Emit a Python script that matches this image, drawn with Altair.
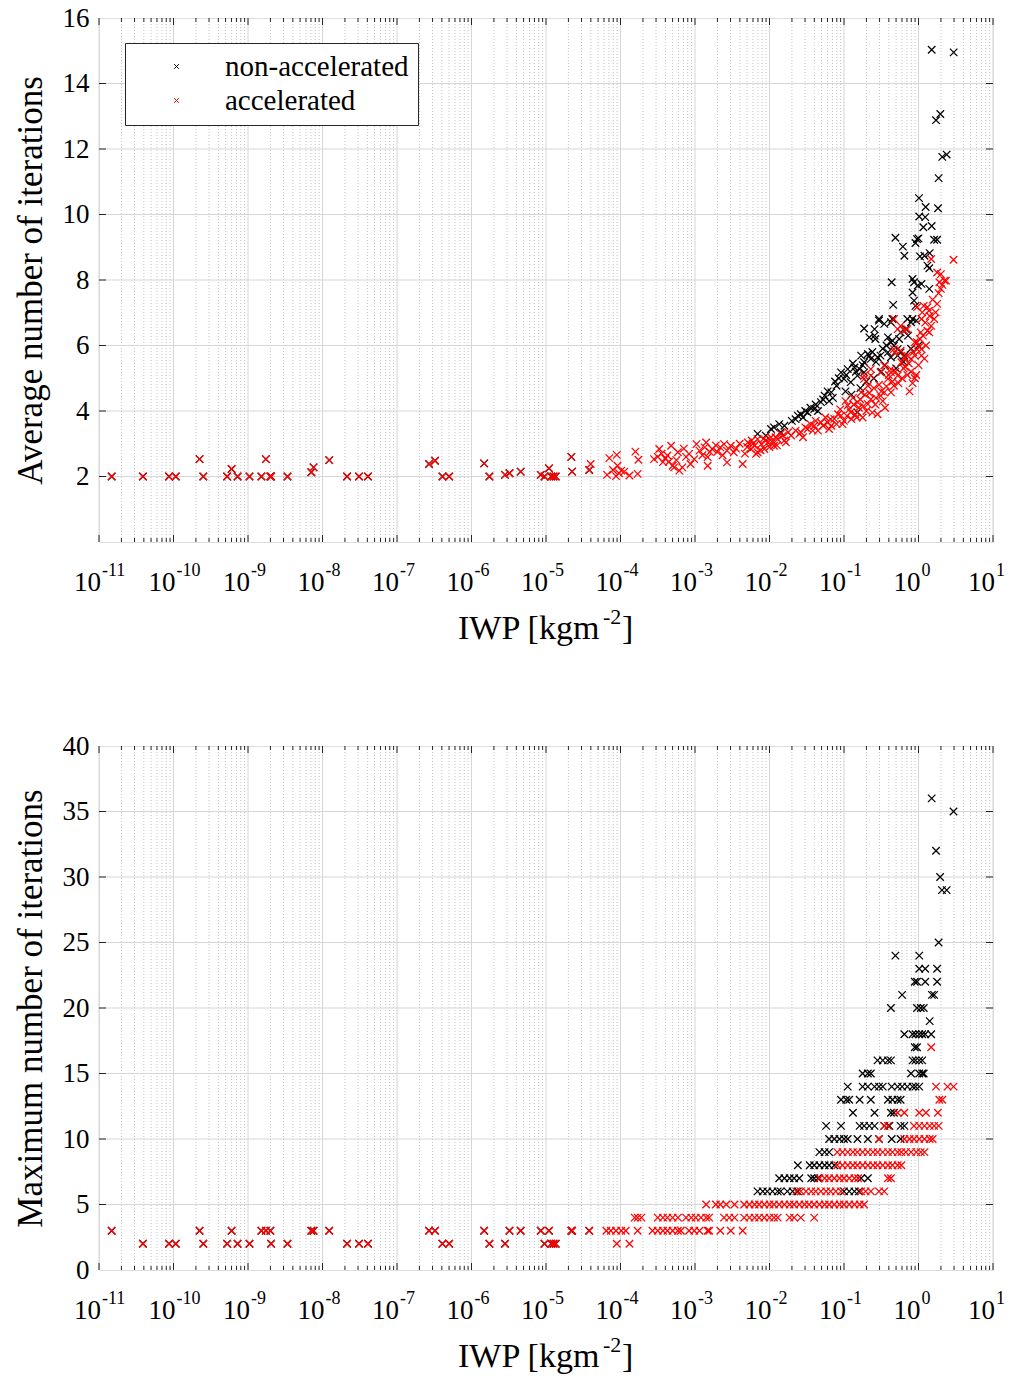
import altair as alt
import pandas as pd

# ---------------- data (log10 IWP exponents and iteration counts) ----------------
# profiles with very small IWP (same for both schemes)
low_exp = [-10.83, -10.41, -10.06, -9.97, -9.65, -9.60, -9.28, -9.22, -9.14, -8.98,
           -8.82, -8.76, -8.70, -8.69, -8.47, -8.15, -8.12, -7.91, -7.67, -7.51,
           -7.39, -6.57, -6.49, -6.39, -6.30, -5.83, -5.76, -5.55, -5.49, -5.34,
           -5.07, -5.02, -4.96, -4.93, -4.90, -4.87, -4.66, -4.65, -4.42]
low_avg = [2.0, 2.0, 2.0, 2.0, 2.53, 2.0, 2.0, 2.23, 2.0, 2.0,
           2.0, 2.53, 2.0, 2.0, 2.0, 2.13, 2.28, 2.5, 2.0, 2.0,
           2.0, 2.38, 2.48, 2.0, 2.0, 2.4, 2.0, 2.05, 2.1, 2.15,
           2.05, 2.0, 2.25, 2.0, 2.0, 2.0, 2.6, 2.15, 2.2]
low_max = [3, 2, 2, 2, 3, 2, 2, 3, 2, 2,
           3, 3, 3, 2, 2, 3, 3, 3, 2, 2,
           2, 3, 3, 2, 2, 3, 2, 2, 3, 3,
           3, 2, 3, 2, 2, 2, 3, 3, 3]

# average number of iterations, accelerated (exponent, value)
avg_acc = [
    (-4.40, 2.38), (-4.15, 2.56), (-4.05, 2.66), (-4.04, 2.33), (-4.18, 2.05), (-4.06, 2.01),
    (-3.99, 2.18), (-3.95, 2.15), (-3.88, 2.03), (-3.77, 2.08), (-4.10, 2.20), (-4.02, 2.10),
    (-3.80, 2.76), (-3.76, 2.51),
    (-3.55, 2.53), (-3.48, 2.84), (-3.43, 2.44), (-3.37, 2.64), (-3.32, 2.94), (-3.30, 2.33),
    (-3.23, 2.74), (-3.21, 2.18), (-3.28, 2.28), (-3.17, 2.28), (-3.50, 2.60), (-3.40, 2.55),
    (-3.35, 2.45), (-3.25, 2.50),
    (-3.08, 2.69), (-3.06, 2.38), (-2.98, 2.99), (-2.94, 2.79), (-2.87, 2.89), (-2.85, 3.04),
    (-2.83, 2.59), (-2.83, 2.33), (-3.01, 2.53), (-2.90, 2.65),
    (-2.77, 2.84), (-2.66, 2.89), (-2.61, 2.99), (-2.57, 2.79), (-2.52, 2.94), (-2.48, 2.74),
    (-2.57, 2.43), (-2.36, 2.38), (-2.70, 2.75),
    (-2.29, 3.04), (-2.25, 2.84), (-2.20, 2.94), (-2.16, 3.14), (-2.11, 2.99), (-2.07, 2.84),
    (-2.02, 3.04), (-1.98, 3.20), (-1.94, 2.94), (-1.89, 3.14), (-1.82, 3.25), (-1.78, 3.04),
    (-2.16, 2.74), (-2.18, 2.69), (-2.30, 2.90), (-2.24, 3.10), (-2.12, 2.80), (-2.05, 3.10),
    (-1.96, 3.05), (-1.90, 2.95), (-1.85, 3.30),
    (-1.71, 3.25), (-1.58, 3.35), (-1.49, 3.45), (-1.40, 3.55), (-1.31, 3.65), (-1.17, 3.55),
    (-1.22, 3.65), (-1.13, 3.76), (-1.04, 3.86), (-0.91, 3.96), (-0.95, 4.17), (-0.82, 4.27),
    (-0.68, 4.21), (-0.64, 4.36), (-0.77, 4.57), (-0.68, 4.77), (-0.73, 4.98), (-0.64, 5.08),
    (-1.65, 3.40), (-1.55, 3.20), (-1.45, 3.60), (-1.35, 3.40), (-1.25, 3.80), (-1.20, 3.45),
    (-1.10, 3.60), (-1.05, 4.05), (-1.00, 3.70), (-0.98, 4.30), (-0.90, 3.75), (-0.88, 4.40),
    (-0.85, 3.90), (-0.80, 4.10), (-0.75, 3.80), (-0.72, 4.50), (-0.70, 4.00), (-0.60, 4.70),
    (-0.58, 4.20), (-0.55, 3.90), (-0.50, 4.60), (-0.45, 4.10),
    (-0.46, 5.39), (-0.37, 5.18), (-0.28, 5.08), (-0.41, 4.98), (-0.33, 4.77), (-0.46, 4.57),
    (-0.51, 4.47), (-0.37, 4.57),
    (-0.02, 6.10), (0.04, 5.89), (-0.05, 5.69), (-0.10, 5.59), (-0.19, 5.64), (-0.24, 5.84),
    (-0.33, 5.89),
    (0.25, 7.27), (0.12, 7.17), (0.05, 7.01), (0.21, 6.81), (0.17, 6.60), (0.12, 6.45),
    (0.03, 6.40), (-0.15, 6.50), (-0.24, 6.60), (-0.33, 6.81),
    (0.35, 7.98), (0.30, 7.73), (0.17, 8.64), (0.47, 8.62), (0.25, 8.23), (0.30, 8.18),
    (0.37, 7.98), (0.28, 7.93), (-0.02, 7.17), (0.07, 7.21), (0.14, 7.06), (0.23, 7.01),
    (0.04, 6.81), (0.145, 6.40), (-0.05, 6.10), (-0.02, 5.89), (0.04, 5.69), (-0.28, 6.50),
    (-0.19, 6.45), (-0.32, 5.79), (-0.15, 5.69), (-0.23, 5.49), (-0.37, 5.28), (-0.51, 5.18),
    (-0.64, 5.28), (-0.73, 5.08),
    (-0.10, 5.20), (0.00, 5.40), (0.08, 5.60), (-0.05, 5.00), (0.10, 6.00), (-0.15, 5.10),
    (-0.20, 5.30), (0.02, 6.20), (-0.12, 4.60), (-0.08, 4.85), (-0.03, 5.10),
    (-1.60, 3.30), (-1.52, 3.50), (-1.42, 3.40), (-1.38, 3.70), (-1.28, 3.55), (-1.18, 3.75),
    (-1.08, 3.90), (-1.02, 3.60), (-0.96, 3.85), (-0.93, 4.05), (-0.87, 4.20), (-0.83, 3.80),
    (-0.78, 4.35), (-0.74, 4.15), (-0.66, 4.55), (-0.62, 3.95), (-0.57, 4.40), (-0.53, 4.80),
    (-0.48, 4.30), (-0.43, 4.75), (-0.40, 5.10), (-0.35, 4.90), (-0.31, 5.20), (-0.27, 4.85),
    (-0.22, 5.00), (-0.18, 5.35), (-0.13, 5.45), (-0.07, 5.80), (0.01, 5.95), (0.06, 6.30),
    (0.09, 6.70), (0.15, 6.90), (0.19, 7.40), (0.27, 7.60), (0.32, 7.85),
    (-2.45, 2.85), (-2.40, 3.00), (-2.33, 2.70), (-2.22, 3.00), (-2.08, 3.15), (-2.00, 2.90),
    (-1.92, 3.20), (-1.80, 3.10), (-1.75, 3.35),
    (-2.80, 2.75), (-2.72, 2.95), (-2.63, 2.65), (-3.12, 2.60), (-3.15, 2.85), (-3.45, 2.70),
]

# average number of iterations, non-accelerated (exponent, value)
avg_non = [
    (-2.16, 3.30), (-2.05, 3.25), (-1.98, 3.45), (-1.87, 3.60), (-1.85, 3.35), (-1.94, 3.50),
    (-1.62, 3.86), (-1.49, 3.96), (-1.40, 4.06), (-1.31, 4.27), (-1.26, 4.47), (-1.17, 4.57),
    (-1.10, 4.77), (-1.04, 5.18), (-0.95, 5.28), (-0.86, 5.33), (-1.00, 4.98), (-0.91, 4.88),
    (-0.82, 5.08), (-0.82, 3.96), (-0.79, 5.28), (-0.73, 5.18),
    (-0.77, 5.69), (-0.66, 5.69), (-0.64, 5.59), (-0.51, 5.69), (-0.41, 5.79), (-0.37, 5.64),
    (-0.28, 5.69), (-0.68, 5.74), (-0.55, 5.64), (-0.73, 5.49),
    (-0.73, 6.52), (-0.59, 6.50), (-0.66, 6.25), (-0.58, 6.20), (-0.41, 6.25), (-0.35, 6.15),
    (-0.24, 6.40), (-0.17, 6.50), (-0.10, 6.71), (-0.03, 6.76), (-0.53, 6.76), (-0.46, 6.66),
    (-0.37, 6.71), (-0.59, 6.30),
    (-0.37, 6.10), (-0.33, 5.99), (-0.28, 5.89), (-0.24, 5.79), (-0.19, 5.69),
    (-0.36, 7.93), (-0.08, 8.03), (-0.06, 7.93), (-0.01, 7.83), (-0.08, 7.62), (0.04, 7.88),
    (0.145, 7.73), (-0.34, 7.24), (-0.06, 7.37), (-0.04, 7.21),
    (0.12, 8.44), (0.145, 8.36), (0.02, 8.72), (0.08, 8.74), (0.15, 8.82), (-0.19, 8.74),
    (-0.21, 9.02),
    (-0.02, 9.25), (0.00, 9.27), (-0.04, 9.13), (0.21, 9.23), (0.25, 9.23), (-0.31, 9.29),
    (0.065, 9.61), (0.177, 9.65), (0.01, 9.94), (0.09, 9.92),
    (0.007, 10.50), (0.096, 10.23), (0.262, 10.19),
    (0.27, 11.11), (0.319, 11.76), (0.378, 11.83), (0.235, 12.88), (0.293, 13.07),
    (0.177, 15.03), (0.472, 14.95),
    (-1.70, 3.70), (-1.55, 3.80), (-1.45, 4.10), (-1.35, 4.00), (-1.20, 4.30), (-1.15, 4.40),
    (-0.98, 4.60), (-0.90, 4.50), (-0.78, 4.70), (-0.70, 4.90), (-0.60, 5.00), (-0.50, 5.20),
    (-0.45, 5.40), (-0.30, 5.30), (-0.20, 5.50), (-0.10, 5.90), (0.00, 6.00),
    (-0.53, 6.81), (-0.35, 6.81), (-0.15, 6.81), (-0.08, 6.81),
    (-1.80, 3.55), (-1.65, 3.75), (-1.58, 3.90), (-1.52, 4.00), (-1.38, 4.20), (-1.28, 4.35),
    (-1.22, 4.60), (-1.12, 4.90), (-1.07, 5.00), (-0.97, 5.10), (-0.88, 5.45), (-0.84, 5.20),
    (-0.75, 5.40), (-0.62, 5.80), (-0.57, 5.50), (-0.48, 5.90), (-0.43, 6.00), (-0.26, 6.20),
    (-0.14, 6.30),
]

# maximum number of iterations: value -> exponents of IWP
max_acc_rows = {
    2: [-4.05, -3.88],
    3: [-4.19, -4.13, -4.06, -3.99, -3.93, -3.77, -3.57, -3.50, -3.43, -3.37, -3.30, -3.23,
        -3.19, -3.08, -3.01, -2.94, -2.83, -2.81, -2.66, -2.52, -2.36],
    4: [-3.81, -3.77, -3.72, -3.50, -3.43, -3.37, -3.30, -3.23, -3.12, -3.05, -2.99, -2.92,
        -2.85, -2.81, -2.61, -2.54, -2.47, -2.34, -2.27, -2.20, -2.14, -2.07, -2.00, -1.94,
        -1.89, -1.73, -1.67, -1.58, -1.40],
    5: [-2.85, -2.72, -2.66, -2.58, -2.47, -2.34, -2.27, -2.20, -2.14, -2.07, -2.00, -1.94,
        -1.87, -1.80, -1.73, -1.67, -1.60, -1.53, -1.47, -1.40, -1.33, -1.26, -1.20, -1.13,
        -1.06, -1.00, -0.93, -0.86, -0.79, -0.73],
    6: [-1.64, -1.58, -1.51, -1.44, -1.38, -1.31, -1.24, -1.18, -1.11, -1.04, -0.77, -0.71,
        -0.64, -0.53, -0.46],
    7: [-1.33, -1.26, -1.20, -1.13, -1.06, -1.00, -0.93, -0.86, -0.81, -0.41, -0.37],
    8: [-1.09, -1.02, -0.95, -0.88, -0.82, -0.75, -0.68, -0.61, -0.55, -0.48, -0.41, -0.35,
        -0.28, -0.23],
    9: [-1.09, -1.02, -0.95, -0.88, -0.82, -0.75, -0.68, -0.61, -0.55, -0.48, -0.41, -0.35,
        -0.28, -0.23, -0.17, -0.10, -0.03, 0.03, 0.08],
    10: [-0.53, -0.19, -0.12, -0.06, 0.01, 0.08, 0.15, 0.19],
    11: [-0.46, -0.41, -0.06, 0.01, 0.08, 0.15, 0.21, 0.27],
    12: [-0.28, -0.19, 0.01, 0.10, 0.26],
    13: [0.28, 0.32],
    14: [0.235, 0.39, 0.47],
    17: [0.17],
}
max_non_rows = {
    6: [-2.16, -2.09, -2.03, -1.96, -1.89, -1.85, -1.76, -1.69, -1.62, -1.00, -0.93, -0.86, -0.80],
    7: [-1.87, -1.80, -1.73, -1.67, -1.60, -1.44, -1.40, -1.35, -0.77, -0.68],
    8: [-1.62, -1.46, -1.40, -1.33, -1.26, -1.20, -1.13],
    9: [-1.33, -1.26, -1.20],
    10: [-1.20, -1.13, -1.06, -1.00, -0.95, -0.82, -0.68, -0.53, -0.36, -0.24],
    11: [-1.24, -1.04, -0.79, -0.73, -0.66, -0.59, -0.46, -0.39, -0.24, -0.19],
    12: [-0.88, -0.59, -0.37, -0.33],
    13: [-1.04, -0.97, -0.93, -0.79, -0.64, -0.41, -0.35, -0.28, -0.24],
    14: [-0.95, -0.75, -0.68, -0.59, -0.53, -0.48, -0.36, -0.28, -0.22, -0.15, -0.08, -0.04, 0.01],
    15: [-0.75, -0.68, -0.64, -0.10, 0.01, 0.05, 0.07],
    16: [-0.55, -0.48, -0.41, -0.37, -0.08, -0.04, 0.01, 0.05],
    17: [-0.05, -0.02],
    18: [-0.19, -0.08, -0.04, 0.01, 0.05, 0.09, 0.17],
    19: [0.15],
    20: [-0.37, -0.02, 0.03, 0.07],
    21: [-0.22, 0.18, 0.21],
    22: [-0.05, -0.02, 0.09, 0.25],
    23: [0.01, 0.09, 0.25],
    24: [-0.31, 0.01],
    25: [0.27],
    29: [0.315, 0.378],
    30: [0.29],
    32: [0.235],
    35: [0.47],
    36: [0.177],
}

# axis ticks / labels
decade_exp = [-11, -10, -9, -8, -7, -6, -5, -4, -3, -2, -1, 0, 1]
decade_sup = ["-11", "-10", "-9", "-8", "-7", "-6", "-5", "-4", "-3", "-2", "-1", "0", "1"]
minor_mult = [2, 3, 4, 5, 6, 7, 8, 9]
avg_yticks = [2, 4, 6, 8, 10, 12, 14, 16]
max_yticks = [0, 5, 10, 15, 20, 25, 30, 35, 40]
SERIES = ["non-accelerated", "accelerated"]

# ---------------- layout / style ----------------
W, H = 894, 524
FONT = "Liberation Serif"
XPATH = "M-1,-1L1,1M-1,1L1,-1"
AXC = "#262626"


def frame(non_pairs, acc_pairs):
    rows = [{"iwp": 10.0 ** e, "val": v, "scheme": SERIES[0]} for e, v in non_pairs]
    rows += [{"iwp": 10.0 ** e, "val": v, "scheme": SERIES[1]} for e, v in acc_pairs]
    return pd.DataFrame(rows)


def panel(df, ymax, yticks, ytitle):
    xs = alt.Scale(type="log", domain=[1e-11, 10])
    ys = alt.Scale(domain=[0, ymax], nice=False, zero=False)
    yaxis = alt.Axis(
        values=yticks, grid=False, ticks=False, domain=False,
        labelFont=FONT, labelFontSize=27, labelColor="black", labelPadding=10,
        title=ytitle, titleFont=FONT, titleFontSize=35, titleFontWeight="normal",
        titleColor="black", titlePadding=14)
    X = lambda: alt.X("iwp:Q", scale=xs, axis=None)
    Y = lambda: alt.Y("val:Q", scale=ys, axis=yaxis)

    decades = pd.DataFrame({"iwp": [10.0 ** k for k in decade_exp], "sup": decade_sup})
    minors = pd.DataFrame({"iwp": [m * 10.0 ** k for k in decade_exp[:-1] for m in minor_mult]})
    inner = pd.DataFrame({"val": [t for t in yticks if 0 < t < ymax]})

    layers = []
    layers.append(alt.Chart(minors).mark_rule(color="#c4c4c4", strokeDash=[1, 2], strokeWidth=1)
                  .encode(x=X(), y=alt.value(0), y2=alt.value(H)))
    layers.append(alt.Chart(decades).mark_rule(color="#d6d6d6", strokeWidth=1)
                  .encode(x=X(), y=alt.value(0), y2=alt.value(H)))
    layers.append(alt.Chart(inner).mark_rule(color="#d6d6d6", strokeWidth=1)
                  .encode(y=Y(), x=alt.value(0), x2=alt.value(W)))

    pts = alt.Chart(df).mark_point(shape=XPATH, filled=False, size=56, strokeWidth=1.25, opacity=1).encode(
        x=X(),
        y=Y(),
        color=alt.Color("scheme:N", scale=alt.Scale(domain=SERIES, range=["#000000", "#ff0000"]),
                        legend=alt.Legend(
                            orient="none", legendX=26, legendY=25, title=None,
                            symbolType=XPATH, symbolSize=22, symbolStrokeWidth=1,
                            labelFont=FONT, labelFontSize=29, labelColor="black", labelLimit=400,
                            strokeColor=AXC, fillColor="white", padding=9, rowPadding=4,
                            symbolOffset=28, labelOffset=34)),
    )
    layers.append(pts)

    # inward ticks (box style)
    for y0, y1, data in [(H, H - 7, decades), (0, 7, decades), (H, H - 4, minors), (0, 4, minors)]:
        layers.append(alt.Chart(data).mark_rule(color=AXC, strokeWidth=1)
                      .encode(x=X(), y=alt.value(y0), y2=alt.value(y1)))
    for x0, x1 in [(0, 7), (W, W - 7)]:
        layers.append(alt.Chart(inner).mark_rule(color=AXC, strokeWidth=1)
                      .encode(y=Y(), x=alt.value(x0), x2=alt.value(x1)))

    # x tick labels 10^k
    layers.append(alt.Chart(decades).mark_text(text="10", font=FONT, fontSize=27, align="right",
                                               baseline="alphabetic", dx=2, color="black")
                  .encode(x=X(), y=alt.value(H + 49)))
    layers.append(alt.Chart(decades).mark_text(font=FONT, fontSize=18, align="left",
                                               baseline="alphabetic", dx=3, color="black")
                  .encode(x=X(), y=alt.value(H + 34), text="sup:N"))

    # x title: IWP [kgm^-2]
    t1 = pd.DataFrame({"t": ["IWP [kgm"]})
    t2 = pd.DataFrame({"t": ["-2"]})
    t3 = pd.DataFrame({"t": ["]"]})
    layers.append(alt.Chart(t1).mark_text(font=FONT, fontSize=34, align="left", baseline="alphabetic",
                                          color="black").encode(x=alt.value(359), y=alt.value(H + 97), text="t:N"))
    layers.append(alt.Chart(t2).mark_text(font=FONT, fontSize=22, align="left", baseline="alphabetic",
                                          color="black").encode(x=alt.value(504), y=alt.value(H + 82), text="t:N"))
    layers.append(alt.Chart(t3).mark_text(font=FONT, fontSize=34, align="left", baseline="alphabetic",
                                          color="black").encode(x=alt.value(523), y=alt.value(H + 97), text="t:N"))

    return alt.layer(*layers).properties(width=W, height=H)


top_df = frame(list(zip(low_exp, low_avg)) + avg_non, list(zip(low_exp, low_avg)) + avg_acc)
max_non = list(zip(low_exp, low_max)) + [(e, v) for v, es in max_non_rows.items() for e in es]
max_acc = list(zip(low_exp, low_max)) + [(e, v) for v, es in max_acc_rows.items() for e in es]
bot_df = frame(max_non, max_acc)

top = panel(top_df, 16, avg_yticks, "Average number of iterations")
bottom = panel(bot_df, 40, max_yticks, "Maximum number of iterations")

chart = alt.vconcat(top, bottom, spacing=84).properties(
    padding={"left": 12, "top": 3, "right": 5, "bottom": 5}
).configure_view(stroke=AXC, strokeWidth=1.2).configure(background="white")

chart.save("out.html", embed_options={"renderer": "svg", "actions": False})
